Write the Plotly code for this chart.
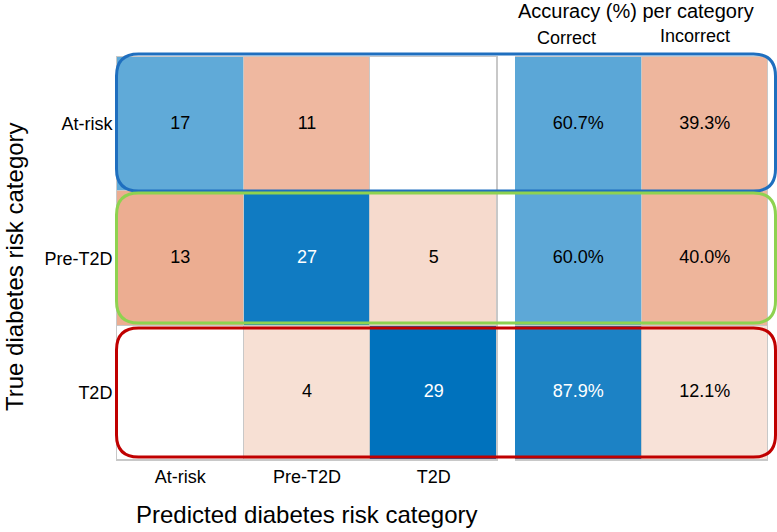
import plotly.graph_objects as go

# ---- data ----
true_cats = ["At-risk", "Pre-T2D", "T2D"]
pred_cats = ["At-risk", "Pre-T2D", "T2D"]
counts = [
    [17, 11, 0],
    [13, 27, 5],
    [0, 4, 29],
]
acc_cols = ["Correct", "Incorrect"]
correct_pct = [60.7, 60.0, 87.9]
incorrect_pct = [39.3, 40.0, 12.1]

W, H = 777, 532
OFF = 0  # body margin removed via post_script
FONT = "Liberation Sans, Arial, Helvetica, sans-serif"

def px(x):
    return (x - OFF) / W

def py(y):
    return 1 - (y - OFF) / H

max_count = max(max(r) for r in counts)
z_mat = [[(c / max_count) * (1 if i == j else -1) for j, c in enumerate(row)]
         for i, row in enumerate(counts)]
z_acc = [[c / 100.0, -inc / 100.0] for c, inc in zip(correct_pct, incorrect_pct)]

colorscale = [
    [0.0, "rgb(217,83,25)"],
    [0.4999, "rgb(252,246,242)"],
    [0.5, "rgb(255,255,255)"],
    [0.5001, "rgb(232,250,255)"],
    [1.0, "rgb(0,114,189)"],
]

fig = go.Figure()
fig.add_trace(go.Heatmap(
    x=pred_cats, y=true_cats, z=z_mat, zmin=-1, zmax=1,
    colorscale=colorscale, showscale=False, xgap=1, ygap=1,
    hoverinfo="skip", xaxis="x", yaxis="y"))
fig.add_trace(go.Heatmap(
    x=acc_cols, y=true_cats, z=z_acc, zmin=-1, zmax=1,
    colorscale=colorscale, showscale=False, xgap=1, ygap=1,
    hoverinfo="skip", xaxis="x2", yaxis="y"))

# cell texts
tx, ty, tt, tc = [], [], [], []
for i, t in enumerate(true_cats):
    for j, p in enumerate(pred_cats):
        if counts[i][j] != 0:
            tx.append(p); ty.append(t); tt.append(str(counts[i][j]))
            tc.append("white" if abs(z_mat[i][j]) > 0.8 else "black")
fig.add_trace(go.Scatter(x=tx, y=ty, text=tt, mode="text",
                         textfont=dict(family=FONT, size=18, color=tc),
                         hoverinfo="skip", xaxis="x", yaxis="y", showlegend=False))
ax, ay, at, ac = [], [], [], []
for i, t in enumerate(true_cats):
    for j, col in enumerate(acc_cols):
        v = correct_pct[i] if j == 0 else incorrect_pct[i]
        ax.append(col); ay.append(t); at.append(f"{v:.1f}%")
        ac.append("white" if abs(z_acc[i][j]) > 0.8 else "black")
fig.add_trace(go.Scatter(x=ax, y=ay, text=at, mode="text",
                         textfont=dict(family=FONT, size=18, color=ac),
                         hoverinfo="skip", xaxis="x2", yaxis="y", showlegend=False))

axis_common = dict(showline=True, mirror=True, linecolor="#C8C8C8", linewidth=1,
                   showgrid=False, zeroline=False, ticks="", fixedrange=True)

fig.update_layout(
    width=W, height=H,
    margin=dict(l=0, r=0, t=0, b=0, pad=0),
    paper_bgcolor="white", plot_bgcolor="#C8C8C8",
    showlegend=False,
    font=dict(family=FONT, size=18, color="black"),
    xaxis=dict(domain=[px(117), px(497)], anchor="y", side="bottom",
               tickfont=dict(size=18), **axis_common),
    xaxis2=dict(domain=[px(515), px(768)], anchor="y", showticklabels=False,
                **axis_common),
    yaxis=dict(domain=[py(460), py(57)], anchor="x", autorange="reversed",
               tickfont=dict(size=18), **axis_common),
)

def rounded(x0, y0, x1, y1, r):
    rx, ry = r / W, r / H
    X0, X1 = px(x0), px(x1)
    Y0, Y1 = py(y0), py(y1)  # Y0 top (larger), Y1 bottom
    return (f"M {X0+rx},{Y0} L {X1-rx},{Y0} Q {X1},{Y0} {X1},{Y0-ry} "
            f"L {X1},{Y1+ry} Q {X1},{Y1} {X1-rx},{Y1} "
            f"L {X0+rx},{Y1} Q {X0},{Y1} {X0},{Y1+ry} "
            f"L {X0},{Y0-ry} Q {X0},{Y0} {X0+rx},{Y0} Z")

shapes = []
for (y0, y1, col) in [(54, 191, "#1F6FBF"), (193, 323, "#8ED250"), (328, 457, "#C00000")]:
    shapes.append(dict(type="path", xref="paper", yref="paper",
                       path=rounded(116.5, y0, 775.5, y1, 22),
                       line=dict(color=col, width=3), fillcolor="rgba(0,0,0,0)"))
fig.update_layout(shapes=shapes)

annotations = [
    dict(text="True diabetes risk category", x=px(14), y=py(267), textangle=-90,
         font=dict(size=24)),
    dict(text="Predicted diabetes risk category", x=px(307), y=py(514),
         font=dict(size=24)),
    dict(text="Accuracy (%) per category", x=px(636), y=py(11), font=dict(size=20)),
    dict(text="Correct", x=px(566), y=py(38), font=dict(size=18)),
    dict(text="Incorrect", x=px(695), y=py(36), font=dict(size=18)),
]
for a in annotations:
    a.update(xref="paper", yref="paper", showarrow=False, xanchor="center", yanchor="middle")
fig.update_layout(annotations=annotations)

fig.write_html(
    "out.html",
    config={"displayModeBar": False},
    post_script="document.body.style.margin='0';document.body.style.overflow='hidden';",
)
